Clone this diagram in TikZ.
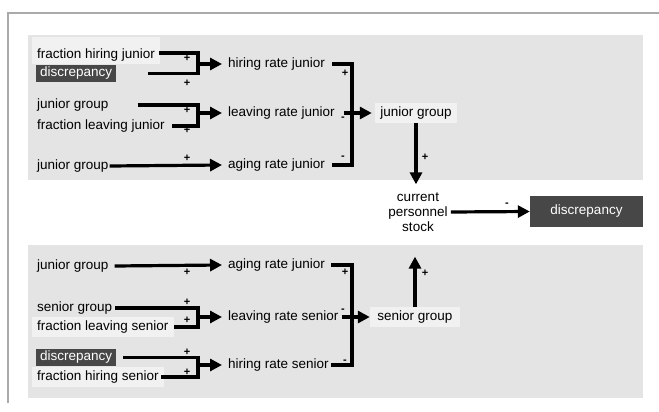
\documentclass[tikz,border=0pt]{standalone}
\usepackage{fontspec}
\setmainfont{Liberation Sans}
\usetikzlibrary{arrows.meta, positioning}
\definecolor{panelcolor}{RGB}{228,228,228}
\definecolor{boxcolor}{RGB}{241,241,241}
\definecolor{darkcolor}{RGB}{71,71,71}
\definecolor{framecolor}{RGB}{170,170,170}

\begin{document}
\begin{tikzpicture}[
    x=1pt, y=-1pt,
    lab/.style={font=\fontsize{13.5}{15}\selectfont, inner xsep=3pt, inner ysep=2pt, anchor=west},
    rate/.style={lab, inner xsep=6pt},
    lbox/.style={lab, fill=boxcolor, inner xsep=5pt, minimum height=20pt},
    dbox/.style={font=\fontsize{13.5}{15}\selectfont, fill=darkcolor, text=white, inner xsep=4pt, inner ysep=2pt, minimum height=17pt},
    sign/.style={font=\fontsize{11}{11}\selectfont\bfseries, inner sep=0pt},
    link/.style={line width=3.2pt},
    arrow/.style={link, -{Triangle[length=12pt, width=12pt]}}
]
    \useasboundingbox (0,0) rectangle (659,412);

    % Frame and panels
    \draw[framecolor, line width=1.5pt] (8,403) -- (8,13) -- (659,13);
    \fill[panelcolor] (28,35) rectangle (643,180);
    \fill[panelcolor] (28,245) rectangle (643,398);

    % Junior inputs
    \node[lbox, anchor=base west, text height=19pt, text depth=2pt, inner ysep=3pt] (fhj) at (32,59) {fraction hiring junior};
    \node[dbox, anchor=west] (dj) at (36,73.5) {discrepancy};
    \node[lab] (jg1) at (34,105) {junior group};
    \node[lab] (flj) at (34,126) {fraction leaving junior};
    \node[lab] (jg2) at (34,166) {junior group};

    % Junior rates
    \node[rate] (hrj) at (222,64) {hiring rate junior};
    \node[rate] (lrj) at (222,113) {leaving rate junior};
    \node[rate] (arj) at (222,165) {aging rate junior};

    % Stocks
    \node[lbox, anchor=center, minimum width=82pt] (jg) at (416,113) {junior group};
    \node[lab, anchor=center, align=center] (cps) at (418,212) {current\\personnel\\stock};
    \node[dbox, minimum width=113pt, minimum height=31pt] (disc) at (586.5,211.5) {discrepancy};
    \node[lbox, anchor=center, minimum width=90pt] (sg) at (415,317) {senior group};

    % Senior inputs
    \node[lab] (jg3) at (34,266) {junior group};
    \node[lab] (sg1) at (34,308) {senior group};
    \node[lbox] (fls) at (32,327) {fraction leaving senior};
    \node[dbox, anchor=west] (ds) at (36,357.5) {discrepancy};
    \node[lbox] (fhs) at (32,377) {fraction hiring senior};

    % Senior rates
    \node[rate] (ars) at (222,265) {aging rate junior};
    \node[rate] (lrs) at (222,317) {leaving rate senior};
    \node[rate] (hrs) at (222,365) {hiring rate senior};

    % Bracket joints
    \coordinate (bj1) at (198,64);
    \coordinate (bj2) at (198,113);
    \coordinate (bj3) at (198,317);
    \coordinate (bj4) at (198,365);
    \coordinate (bjr1) at (352,113);
    \coordinate (bjr2) at (352,317);

    % Junior links
    \draw[link] ([xshift=-1pt, yshift=6pt]fhj.base east) -| (bj1) |- ([xshift=32pt]dj.east);
    \draw[arrow] (bj1) -- (hrj.west);
    \draw[link] ([xshift=26pt]jg1.east) -| (bj2) |- ([xshift=4pt]flj.east);
    \draw[arrow] (bj2) -- (lrj.west);
    \draw[arrow] ([xshift=-2pt]jg2.east) -- (arj.west);
    \draw[link] ([xshift=1pt]hrj.east) -| (bjr1) |- ([xshift=1pt]arj.east);
    \draw[arrow, shorten >=3pt] ([xshift=3pt]lrj.east) -- (jg.west);

    % Stock links
    \draw[arrow, shorten >=6pt] (jg.south) -- (jg.south |- cps.north);
    \draw[arrow, shorten >=23pt] (sg.north) -- (sg.north |- cps.south);
    \draw[arrow] (cps.east) -- (disc.west);

    % Senior links
    \draw[arrow] ([xshift=3pt]jg3.east) -- (ars.west);
    \draw[link] (sg1.east) -| (bj3) |- (fls.east);
    \draw[arrow] (bj3) -- (lrs.west);
    \draw[link] ([xshift=7pt]ds.east) -| (bj4) |- ([xshift=-3pt]fhs.east);
    \draw[arrow] (bj4) -- (hrs.west);
    \draw[link] (ars.east) -| (bjr2) |- ([xshift=-4pt]hrs.east);
    \draw[arrow] ([xshift=-3pt]lrs.east) -- (sg.west);

    % Polarity signs
    \foreach \x/\y/\s [count=\i] in {187/58/+, 187/83/+, 187/110/+, 187/130/+, 187/158/+,
        345/73/+, 343/119/-, 343/158/-, 425/157/+, 507/205/-,
        187/272/+, 187/302/+, 187/320/+, 187/352/+, 187/372/+,
        345/272/+, 343/311/-, 345/362/-, 425/273/+}
        \node[sign] (s\i) at (\x,\y) {\s};

\end{tikzpicture}
\end{document}
